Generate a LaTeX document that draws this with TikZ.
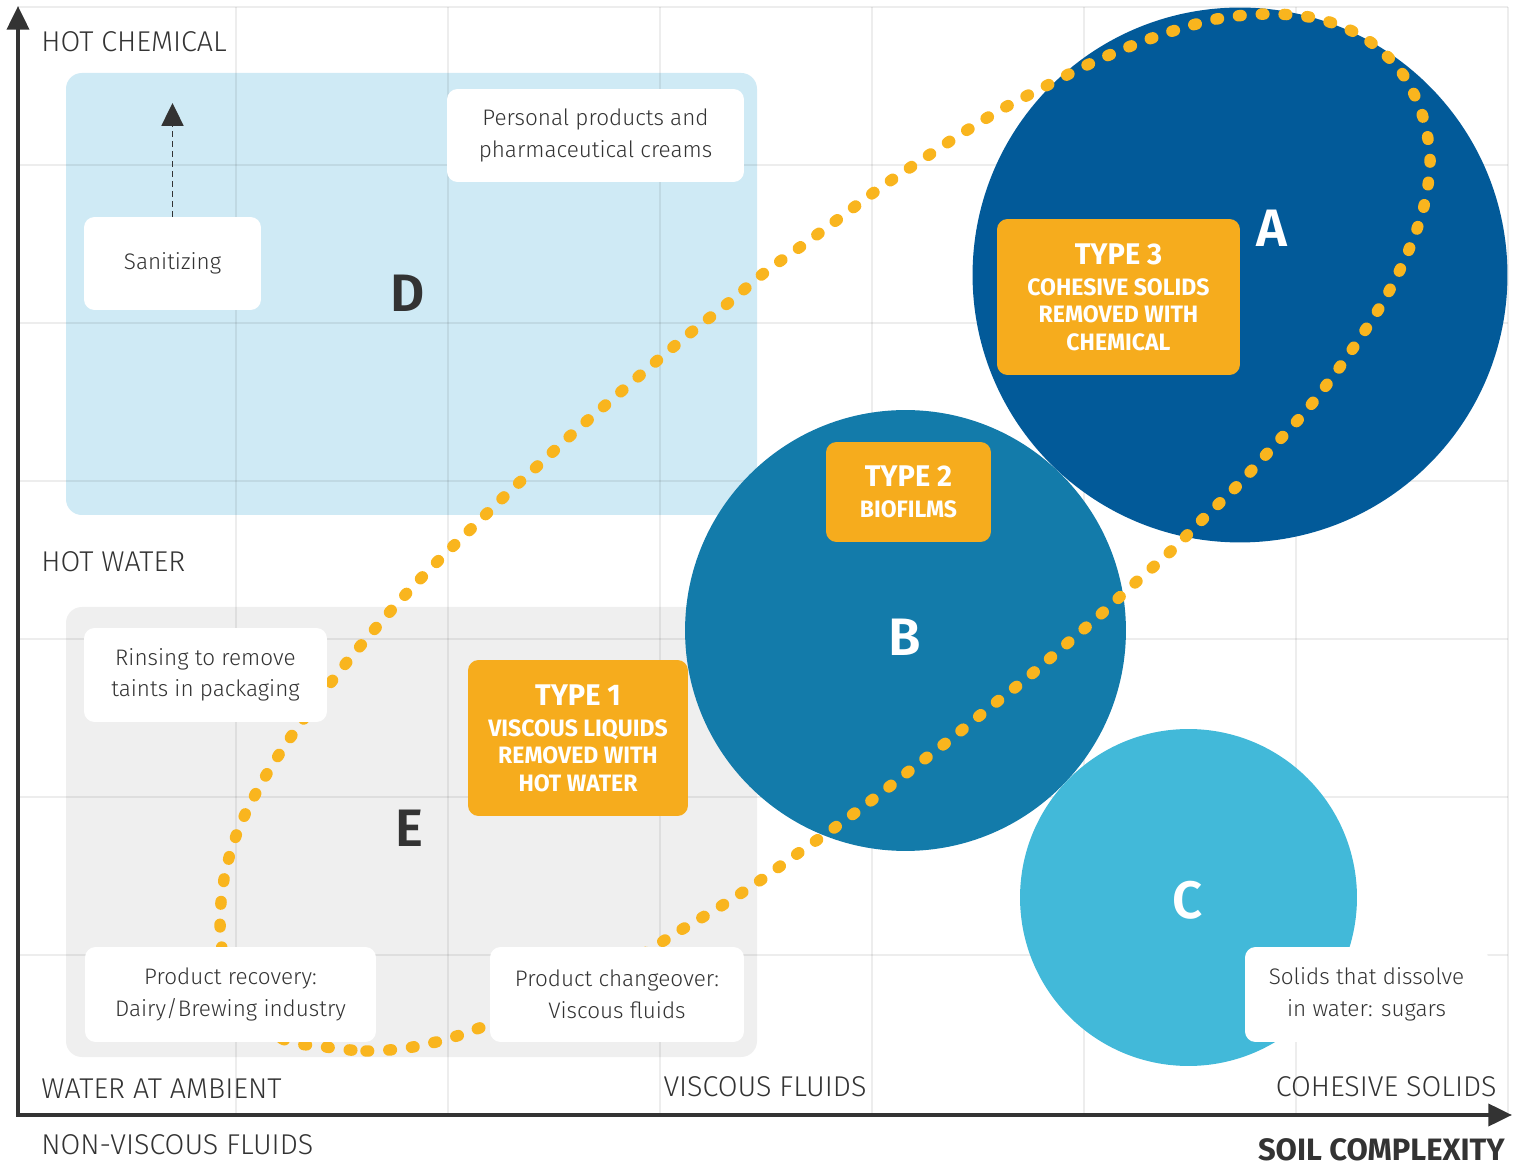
\documentclass[tikz,border=0pt]{standalone}
\usepackage{fontspec}
\setmainfont{Fira Sans}[UprightFont=* Light, BoldFont=* SemiBold]
\newfontfamily\typefont{Fira Sans}[UprightFont=* Bold, FakeStretch=0.97]
\newfontfamily\heavyfont{Fira Sans}[UprightFont=* Bold]
\usetikzlibrary{arrows.meta,positioning}

\definecolor{ink}{HTML}{333333}
\definecolor{regionD}{HTML}{CFEAF5}
\definecolor{regionE}{HTML}{EFEFEF}
\definecolor{blobA}{HTML}{025A99}
\definecolor{blobB}{HTML}{137BAA}
\definecolor{blobC}{HTML}{42B9D9}
\definecolor{typeorange}{HTML}{F6AC1D}
\definecolor{dotorange}{HTML}{F9B51E}

\tikzset{
  axislabel/.style={font=\fontsize{16.3}{19}\selectfont, text=ink, inner sep=0pt},
  whitebox/.style={fill=white, rounded corners=6pt, align=center, text=ink,
    font=\fontsize{12.8}{18}\selectfont},
  typebox/.style={fill=typeorange, rounded corners=6pt, align=center, text=white,
    font=\typefont\fontsize{13.5}{15.5}\selectfont},
  region/.style={rounded corners=9pt},
  blob/.style={circle, inner sep=0pt},
  bigletter/.style={font=\bfseries\fontsize{30}{30}\selectfont, inner sep=0pt},
  gridline/.style={line width=1.6pt, black, opacity=0.07},
  dotline/.style={draw=dotorange, line width=6.5pt, line cap=round,
    dash pattern=on 1.5pt off 11.5pt},
  axisline/.style={line width=2.3pt, ink, line join=miter,
    {Triangle[width=12.5pt,length=13.5pt]}-{Triangle[width=12.5pt,length=13.5pt]}},
  dasharrow/.style={line width=1.1pt, ink, dash pattern=on 3.4pt off 2.3pt,
    -{Triangle[width=12.5pt,length=13pt]}}
}

\begin{document}
\begin{tikzpicture}[x=0.02cm, y=-0.02cm]
\useasboundingbox (0,0) rectangle (1519,1168);

% cleaning regions
\fill[regionD, region] (66,73) rectangle (757,515);
\fill[regionE, region] (66,607) rectangle (757,1057);

% grid
\foreach \x in {236,448,...,1508}
  \draw[gridline] (\x,7) -- (\x,1113);
\foreach \y in {7,165,...,955}
  \draw[gridline] (18,\y) -- (1508,\y);

% soil types
\node[blob, fill=blobA, minimum size=10.7cm] (circA) at (1240,275) {};
\node[blob, fill=blobB, minimum size=8.82cm] (circB) at (905.5,630.5) {};
\node[blob, fill=blobC, minimum size=6.74cm] (circC) at (1188.5,897.5) {};

\draw[dotline] plot[smooth cycle, tension=0.55] coordinates {
  (318,1046) (366,1051) (413,1047) (460,1035) (520,1012) (580,988) (630,962)
  (676,933) (718,908) (758,882) (797,854) (837,826) (876,797) (913,768)
  (952,738) (989,708) (1027,678) (1063,647) (1100,615) (1135,583) (1170,552)
  (1205,517) (1238,485) (1272,448) (1305,412) (1334,375) (1362,335) (1387,295)
  (1408,252) (1424,206) (1430,158) (1421,111) (1399,69) (1363,37) (1319,19)
  (1271,14) (1222,18) (1176,30) (1131,46) (1087,65) (1044,87) (1002,109)
  (961,134) (920,161) (880,188) (841,217) (803,245) (764,273) (727,304)
  (689,334) (652,365) (616,396) (580,427) (544,460) (508,493) (473,527)
  (439,560) (406,594) (374,630) (343,667) (314,705) (286,744) (261,784)
  (239,828) (225,874) (220,922) (225,965) (240,1000) (265,1028) (290,1042)};

% examples
\node[whitebox, minimum width=5.94cm, minimum height=1.86cm] (personal) at (595.5,135.5)
  {Personal products and\\pharmaceutical creams};
\node[whitebox, minimum width=3.54cm, minimum height=1.86cm] (sanit) at (172.5,263.5) {Sanitizing};
\node[whitebox, minimum width=4.86cm, minimum height=1.88cm] (rinse) at (205.5,675)
  {Rinsing to remove\\taints in packaging};
\node[whitebox, minimum width=5.82cm, minimum height=1.9cm] (recovery) at (230.5,994.5)
  {Product recovery:\\Dairy/Brewing industry};
\node[whitebox, minimum width=5.08cm, minimum height=1.9cm] (changeover) at (617,994.5)
  {Product changeover:\\Viscous fluids};
\node[whitebox, minimum width=4.86cm, minimum height=1.9cm] (dissolve) at (1366.5,994.5)
  {Solids that dissolve\\in water: sugars};

\coordinate (sanup) at (171,103);
\draw[dasharrow] (sanit.north) -- (sanit.north |- sanup);

\node[typebox, minimum width=4.86cm, minimum height=3.12cm] (type3) at (1118.5,297)
  {{\fontsize{17}{20}\selectfont TYPE 3}\\[2.5pt]COHESIVE SOLIDS\\REMOVED WITH\\CHEMICAL};
\node[typebox, minimum width=3.3cm, minimum height=2cm] (type2) at (908.5,492)
  {{\fontsize{17}{20}\selectfont TYPE 2}\\[2.5pt]BIOFILMS};
\node[typebox, minimum width=4.4cm, minimum height=3.12cm] (type1) at (578,738)
  {{\fontsize{17}{20}\selectfont TYPE 1}\\[2.5pt]VISCOUS LIQUIDS\\REMOVED WITH\\HOT WATER};

\node[bigletter, text=ink] (letD) at (408,293) {D};
\node[bigletter, text=ink] (letE) at (409,828) {E};
\node[bigletter, text=white] (letA) at (1272,228) {A};
\node[bigletter, text=white] (letB) at (905,637) {B};
\node[bigletter, text=white] (letC) at (1188,900) {C};

% axes
\coordinate (origin) at (18,1115);
\coordinate (ytip) at (18,6);
\coordinate (xtip) at (1512,1115);
\draw[axisline] (ytip) -- (origin) -- (xtip);

\node[axislabel, anchor=west] (hotchem) at (41,42) {HOT CHEMICAL};
\node[axislabel, anchor=west] (hotwater) at (41,562) {HOT WATER};
\node[axislabel, anchor=west] (ambient) at (41,1089) {WATER AT AMBIENT};
\node[axislabel, anchor=west] (nonvisc) at (41,1145) {NON-VISCOUS FLUIDS};
\node[axislabel] (viscous) at (765,1087) {VISCOUS FLUIDS};
\node[axislabel, anchor=east] (cohesive) at (1497,1087) {COHESIVE SOLIDS};
\node[axislabel, anchor=east, font=\heavyfont\fontsize{17.6}{19}\selectfont] (soil) at (1505,1150) {SOIL COMPLEXITY};
\end{tikzpicture}
\end{document}
